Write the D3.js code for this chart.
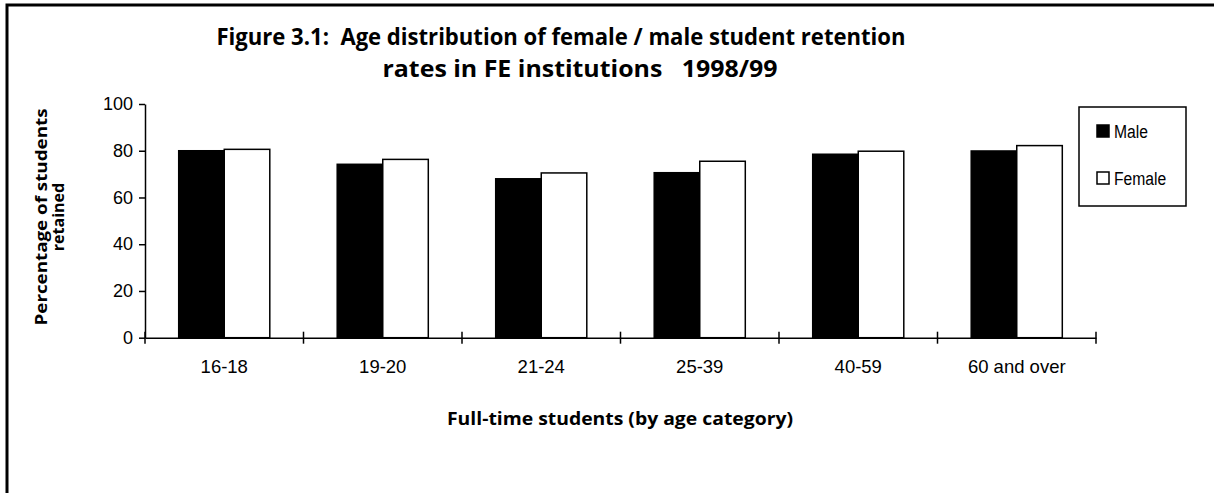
<!DOCTYPE html>
<html>
<head>
<meta charset="utf-8">
<script src="https://cdn.jsdelivr.net/npm/d3@7"></script>
<style>
  body { margin: 0; background: #fff; }
  svg { display: block; }
  .pre { white-space: pre; }
</style>
</head>
<body>
<div id="chart"></div>
<script>
// age categories on the x axis
var categories = ["16-18", "19-20", "21-24", "25-39", "40-59", "60 and over"];
// retention rates (%)
var maleValues = [80.0, 74.2, 68.0, 70.6, 78.5, 79.9];
var femaleValues = [80.6, 76.3, 70.5, 75.5, 79.8, 82.2];
var seriesNames = ["Male", "Female"];
var yTicks = [0, 20, 40, 60, 80, 100];

var W = 1214, H = 493;
var plot = { left: 145, right: 1096, top: 104, bottom: 337.7 };

// build rows for the grouped bars
var data = categories.map(function (c, i) {
  return { cat: c, Male: maleValues[i], Female: femaleValues[i] };
});

var svg = d3.select("#chart").append("svg")
  .attr("width", W)
  .attr("height", H);

// outer frame (only the left and top edge are visible)
svg.append("rect")
  .attr("x", 7).attr("y", 5)
  .attr("width", W + 20).attr("height", H + 20)
  .attr("fill", "none")
  .attr("stroke", "#000")
  .attr("stroke-width", 3);

// title
var title = svg.append("g")
  .attr("font-family", "'Open Sans', 'Noto Sans', sans-serif")
  .attr("font-weight", "bold")
  .attr("font-size", 24)
  .attr("text-anchor", "middle");
title.append("text")
  .attr("class", "pre")
  .attr("xml:space", "preserve")
  .attr("x", 561).attr("y", 45)
  .attr("textLength", 689).attr("lengthAdjust", "spacingAndGlyphs")
  .text("Figure 3.1:  Age distribution of female / male student retention");
title.append("text")
  .attr("class", "pre")
  .attr("xml:space", "preserve")
  .attr("x", 580).attr("y", 77)
  .attr("textLength", 395).attr("lengthAdjust", "spacingAndGlyphs")
  .text("rates in FE institutions   1998/99");

// scales
var x0 = d3.scaleBand()
  .domain(categories)
  .range([plot.left, plot.right])
  .padding(0);
var x1 = d3.scaleBand()
  .domain(seriesNames)
  .range([0, x0.bandwidth()])
  .paddingInner(0)
  .paddingOuter(0.74);
var y = d3.scaleLinear()
  .domain([0, 100])
  .range([plot.bottom, plot.top]);
var color = d3.scaleOrdinal().domain(seriesNames).range(["#000", "#fff"]);

// bars
var groups = svg.append("g").selectAll("g")
  .data(data)
  .enter().append("g")
  .attr("transform", function (d) { return "translate(" + x0(d.cat) + ",0)"; });

groups.selectAll("rect")
  .data(function (d) { return seriesNames.map(function (s) { return { key: s, value: d[s] }; }); })
  .enter().append("rect")
  .attr("x", function (d) { return x1(d.key); })
  .attr("y", function (d) { return y(d.value); })
  .attr("width", x1.bandwidth())
  .attr("height", function (d) { return y(0) - y(d.value); })
  .attr("fill", function (d) { return color(d.key); })
  .attr("stroke", "#000")
  .attr("stroke-width", 1.5);

// y axis
var yAxis = svg.append("g")
  .attr("transform", "translate(" + plot.left + ",0)")
  .call(d3.axisLeft(y).tickValues(yTicks).tickSize(6).tickSizeOuter(0).tickPadding(6));
yAxis.select(".domain").attr("stroke-width", 1.5);
yAxis.selectAll(".tick line").attr("stroke-width", 1.5);
yAxis.selectAll("text")
  .attr("font-family", "'Liberation Sans', Arial, sans-serif")
  .attr("font-size", 18)
  .attr("fill", "#000");

// x axis: labels at the band centres
var xAxis = svg.append("g")
  .attr("transform", "translate(0," + plot.bottom + ")")
  .call(d3.axisBottom(x0).tickSize(0).tickPadding(22));
xAxis.select(".domain").attr("stroke-width", 1.5);
xAxis.selectAll("text")
  .attr("font-family", "'Liberation Sans', Arial, sans-serif")
  .attr("font-size", 18.5)
  .attr("fill", "#000");

// x axis tick marks at category boundaries, crossing the axis line
var bounds = categories.map(function (c) { return x0(c); }).concat([x0.range()[1]]);
xAxis.selectAll(".bound")
  .data(bounds)
  .enter().append("line")
  .attr("class", "bound")
  .attr("x1", function (d) { return d; })
  .attr("x2", function (d) { return d; })
  .attr("y1", -6).attr("y2", 6)
  .attr("stroke", "#000")
  .attr("stroke-width", 1.5);

// axis titles
svg.append("text")
  .attr("x", 620).attr("y", 425)
  .attr("text-anchor", "middle")
  .attr("font-family", "'Open Sans', 'Noto Sans', sans-serif")
  .attr("font-weight", "bold")
  .attr("font-size", 17)
  .attr("textLength", 346).attr("lengthAdjust", "spacingAndGlyphs")
  .text("Full-time students (by age category)");

var yTitle = svg.append("g")
  .attr("transform", "translate(0,217) rotate(-90)")
  .attr("text-anchor", "middle")
  .attr("font-family", "'Open Sans', 'Noto Sans', sans-serif")
  .attr("font-weight", "bold")
  .attr("font-size", 16);
yTitle.append("text")
  .attr("x", 0).attr("y", 47)
  .attr("textLength", 217).attr("lengthAdjust", "spacingAndGlyphs")
  .text("Percentage of students");
yTitle.append("text")
  .attr("x", 0).attr("y", 64)
  .text("retained");

// legend
var legend = svg.append("g").attr("transform", "translate(1079,107)");
legend.append("rect")
  .attr("width", 107).attr("height", 99)
  .attr("fill", "#fff")
  .attr("stroke", "#000")
  .attr("stroke-width", 1.5);
var item = legend.selectAll(".item")
  .data(seriesNames)
  .enter().append("g")
  .attr("class", "item")
  .attr("transform", function (d, i) { return "translate(18," + (18 + i * 47) + ")"; });
item.append("rect")
  .attr("width", 12).attr("height", 12)
  .attr("fill", function (d) { return color(d); })
  .attr("stroke", "#000")
  .attr("stroke-width", 1.5);
// narrow lettering, as in the original legend
item.append("text")
  .attr("transform", "translate(17,12.5) scale(0.87,1)")
  .attr("font-family", "'Liberation Sans Narrow', 'Liberation Sans', Arial, sans-serif")
  .attr("font-size", 18)
  .text(function (d) { return d; });
</script>
</body>
</html>
